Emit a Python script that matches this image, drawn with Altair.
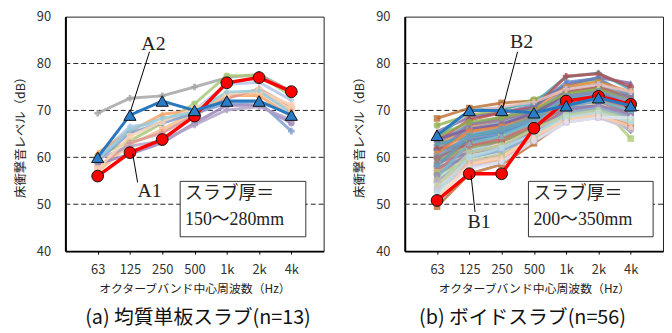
import json
import altair as alt
import pandas as pd

# ---------------- data ----------------
freq_labels = ["63", "125", "250", "500", "1k", "2k", "4k"]
y_ticks = [40, 50, 60, 70, 80, 90]
grid_levels = [50, 60, 70, 80]

# (a) homogeneous slabs, n=13
a_A1 = [56.0, 61.0, 63.8, 68.8, 75.9, 77.0, 74.0]
a_A2 = [60.0, 69.0, 72.0, 70.0, 72.0, 72.0, 69.0]
a_others = [
    [69.4, 72.6, 73.1, 75.0, 77.0, 77.7, 74.1],
    [60.3, 63.5, 67.3, 71.4, 77.4, 77.4, 73.2],
    [60.0, 66.6, 67.3, 70.0, 75.6, 76.0, 72.2],
    [61.0, 65.5, 69.2, 70.0, 73.2, 73.2, 68.7],
    [56.9, 62.8, 65.9, 69.7, 72.8, 73.9, 70.0],
    [57.9, 63.1, 65.2, 69.0, 72.5, 74.6, 70.8],
    [58.6, 60.7, 63.1, 67.3, 71.1, 71.1, 67.3],
    [59.3, 65.2, 67.3, 69.4, 71.5, 71.8, 65.6],
    [59.6, 62.4, 63.5, 66.9, 70.1, 70.8, 68.0],
    [57.6, 64.5, 67.6, 70.4, 73.5, 74.2, 71.1],
    [59.6, 65.9, 68.3, 69.7, 73.9, 74.2, 69.4],
]
a_colors = ["#A6A6A6", "#A9C97A", "#B4C7E7", "#F4A46C", "#FAC090", "#D99694",
            "#9A86B8", "#7F9FD0", "#B3A2C7", "#FCD5B5", "#93CDDD"]
a_shapes = ["cross", "circle", "diamond", "triangle-up", "square", "cross",
            "circle", "cross", "cross", "square", "diamond"]

# (b) voided slabs, n=56
b_B1 = [50.8, 56.5, 56.5, 66.2, 72.0, 73.0, 71.3]
b_B2 = [64.7, 70.0, 70.0, 69.5, 71.0, 72.7, 71.0]
b_others = [
    [68.3, 70.5, 71.6, 72.0, 74.0, 75.0, 73.0],
    [66.8, 69.0, 70.0, 72.3, 75.0, 76.5, 73.5],
    [65.5, 68.5, 69.5, 71.0, 75.5, 77.0, 75.8],
    [64.0, 70.0, 70.5, 71.5, 77.2, 78.0, 74.5],
    [63.5, 68.0, 69.5, 70.5, 77.3, 77.8, 75.0],
    [63.0, 67.0, 68.5, 70.5, 76.0, 76.8, 73.0],
    [62.5, 66.5, 68.0, 70.0, 75.0, 76.0, 74.0],
    [62.0, 66.0, 67.5, 69.5, 74.5, 75.5, 73.5],
    [61.5, 65.5, 67.0, 69.0, 74.0, 75.0, 72.5],
    [61.0, 64.0, 66.0, 69.0, 73.5, 74.5, 72.0],
    [60.5, 67.0, 68.0, 70.0, 73.0, 74.0, 73.0],
    [60.0, 63.5, 64.5, 67.5, 72.0, 73.0, 70.0],
    [59.5, 65.0, 66.5, 68.5, 72.5, 73.5, 71.5],
    [59.0, 62.5, 63.0, 66.0, 70.0, 70.5, 66.0],
    [58.5, 63.0, 64.5, 67.0, 71.0, 71.5, 64.0],
    [58.0, 64.0, 65.5, 68.0, 72.0, 73.0, 69.0],
    [57.5, 61.5, 62.0, 65.5, 69.0, 70.0, 68.0],
    [57.0, 60.5, 63.0, 66.5, 70.5, 71.5, 69.0],
    [56.5, 61.0, 63.5, 66.0, 69.0, 70.0, 68.0],
    [56.0, 62.0, 64.0, 67.0, 71.0, 72.0, 70.0],
    [55.5, 60.0, 62.0, 65.0, 68.5, 69.5, 70.0],
    [55.0, 59.5, 61.0, 64.5, 68.0, 69.0, 67.5],
    [54.5, 61.5, 62.5, 66.0, 70.0, 71.0, 68.5],
    [54.0, 60.5, 63.0, 66.5, 70.5, 71.5, 69.0],
    [53.5, 59.0, 60.0, 64.0, 68.0, 68.5, 70.0],
    [53.0, 58.5, 60.5, 63.5, 67.5, 68.5, 66.5],
    [52.0, 59.5, 61.5, 65.0, 69.0, 70.0, 67.0],
    [51.5, 58.0, 59.5, 63.0, 67.5, 69.0, 68.0],
    [49.5, 56.5, 58.5, 63.0, 68.0, 69.0, 67.0],
    [64.5, 67.5, 68.5, 70.0, 73.5, 74.5, 72.0],
    [63.8, 66.0, 67.0, 69.5, 73.0, 74.0, 71.0],
    [62.8, 64.5, 65.5, 68.0, 72.5, 73.0, 70.5],
    [61.8, 62.5, 63.5, 66.0, 70.0, 70.5, 66.0],
    [61.2, 63.5, 65.0, 67.5, 70.5, 71.0, 65.5],
    [60.8, 65.5, 66.5, 68.5, 71.5, 72.5, 70.5],
    [60.2, 64.5, 66.0, 68.0, 73.0, 74.0, 72.0],
    [59.8, 63.0, 64.0, 66.5, 71.0, 72.0, 69.5],
    [59.2, 62.0, 63.5, 66.0, 69.5, 70.5, 68.5],
    [58.8, 61.0, 62.5, 65.5, 70.0, 71.0, 69.0],
    [58.2, 64.5, 66.0, 68.5, 72.0, 73.0, 71.0],
    [57.8, 60.0, 61.5, 64.5, 69.0, 70.0, 67.5],
    [57.2, 62.5, 64.0, 67.0, 71.5, 72.5, 70.5],
    [56.8, 59.0, 60.5, 64.0, 68.5, 69.5, 68.0],
    [56.2, 61.0, 62.0, 65.5, 70.0, 71.0, 69.5],
    [55.8, 63.0, 64.5, 67.5, 71.0, 72.0, 70.0],
    [55.2, 58.5, 59.5, 63.5, 68.0, 69.0, 67.0],
    [54.8, 60.0, 61.5, 65.0, 69.5, 70.5, 68.5],
    [54.2, 59.0, 60.0, 64.0, 68.5, 69.5, 67.5],
    [53.8, 61.0, 62.5, 66.0, 69.0, 70.0, 68.0],
    [53.2, 58.0, 59.0, 63.5, 67.5, 68.5, 66.0],
    [52.5, 60.0, 62.0, 65.0, 68.5, 69.5, 67.5],
    [51.0, 58.5, 60.0, 64.5, 68.0, 69.0, 66.5],
    [50.2, 57.5, 59.0, 63.5, 67.5, 68.5, 68.5],
    [65.0, 69.5, 70.8, 71.8, 74.5, 75.5, 74.0],
]
b_palette = ["#B8692A", "#8DB04A", "#7A5C9E", "#3FA3BF", "#B94A47", "#5B83C2",
             "#F08A3A", "#7E9CC0", "#A86B6A", "#8FA66A", "#8C7AA8", "#5FA3B5",
             "#729ACA", "#CD7371", "#AFC97A", "#9983B5", "#6FBDD1", "#F9AB6B",
             "#95B3D7", "#E6B9B8", "#C3D69B", "#CCC1DA", "#B7DEE8", "#FCD5B5",
             "#DCE6F2", "#F2C4C3", "#D7E4BD", "#E4DFEC"]
b_shape_cycle = ["square", "circle", "triangle-up", "diamond", "cross", "triangle-down", "circle"]

SANS = "Noto Sans CJK JP"
SERIF = "Liberation Serif, Noto Sans CJK JP"
W, H = 261, 237


def long_df(rows, prefix):
    recs = []
    for i, row in enumerate(rows):
        for j, v in enumerate(row):
            recs.append({"series": f"{prefix}{i:02d}", "band": j + 1, "level": v})
    return pd.DataFrame(recs)


label_expr = json.dumps(freq_labels) + "[datum.value - 1]"
x_scale = alt.Scale(domain=[0, 8], nice=False, zero=False)
y_scale = alt.Scale(domain=[40, 90], nice=False, zero=False)
x_axis = alt.Axis(values=list(range(1, len(freq_labels) + 1)), labelExpr=label_expr,
                  title="オクターブバンド中心周波数（Hz）", grid=False,
                  domainColor="black", domainWidth=2, tickColor="black", tickSize=3,
                  labelFontSize=13, labelPadding=10, labelColor="#333",
                  titleFontSize=12, titleFontWeight="normal", titlePadding=7, titleColor="#222")
y_axis = alt.Axis(values=y_ticks, grid=False, ticks=False, title="床衝撃音レベル（dB）",
                  domainColor="black", domainWidth=2, labelFontSize=13, labelPadding=15,
                  labelColor="#333", titleFontSize=12.5, titleFontWeight="normal",
                  titlePadding=9, titleColor="#222")


def X():
    return alt.X("band:Q", scale=x_scale, axis=x_axis)


def Y(field="level:Q"):
    return alt.Y(field, scale=y_scale, axis=y_axis)


one = pd.DataFrame({"k": [0]})


def panel(rows, colors, shapes, opac, red, blue, lab_red, lab_blue, box_x, box_lines,
          caption, cap_x):
    bg = long_df(rows, "s")
    names = [f"s{i:02d}" for i in range(len(rows))]
    color = alt.Color("series:N", scale=alt.Scale(domain=names, range=colors), legend=None)
    shape = alt.Shape("series:N", scale=alt.Scale(domain=names, range=shapes), legend=None)

    grid = alt.Chart(pd.DataFrame({"g": grid_levels})).mark_rule(
        color="#222", strokeDash=[5, 3], strokeWidth=1).encode(y=Y("g:Q"))
    lines = alt.Chart(bg).mark_line(strokeWidth=3, opacity=opac).encode(
        x=X(), y=Y(), color=color, detail="series:N")
    pts = alt.Chart(bg).mark_point(filled=True, size=45, opacity=opac).encode(
        x=X(), y=Y(), color=color, shape=shape)

    rdf = long_df([red], "r")
    bdf = long_df([blue], "b")
    rline = alt.Chart(rdf).mark_line(color="#FF0000", strokeWidth=3.5).encode(x=X(), y=Y())
    rpts = alt.Chart(rdf).mark_point(shape="circle", filled=True, size=140, fill="#FF0000",
                                     stroke="#111", strokeWidth=1, opacity=1).encode(x=X(), y=Y())
    bline = alt.Chart(bdf).mark_line(color="#2878C0", strokeWidth=3).encode(x=X(), y=Y())
    bpts = alt.Chart(bdf).mark_point(shape="triangle-up", filled=True, size=150, fill="#2A7CC7",
                                     stroke="#111", strokeWidth=1, opacity=1).encode(x=X(), y=Y())

    ann = []
    for (txt, tx, ty, lx1, ly1, lx2, ly2) in (lab_red, lab_blue):
        ann.append(alt.Chart(one).mark_rule(color="black", strokeWidth=1).encode(
            x=alt.value(lx1), y=alt.value(ly1), x2=alt.value(lx2), y2=alt.value(ly2)))
        ann.append(alt.Chart(one).mark_text(font=SERIF, fontSize=20, color="#222",
                                            align="center", baseline="middle").encode(
            x=alt.value(tx), y=alt.value(ty), text=alt.value(txt)))
    box = alt.Chart(one).mark_rect(fill="white", stroke="#333", strokeWidth=1).encode(
        x=alt.value(box_x[0]), x2=alt.value(box_x[1]), y=alt.value(166.5), y2=alt.value(222.5))
    ann.append(box)
    for k, t in enumerate(box_lines):
        ann.append(alt.Chart(one).mark_text(font=SERIF, fontSize=18, color="#222",
                                            align="left", baseline="middle").encode(
            x=alt.value(box_x[0] + 5), y=alt.value(179 + 27 * k), text=alt.value(t)))
    ann.append(alt.Chart(one).mark_text(font=SANS, fontSize=20, color="#111",
                                        align="center", baseline="middle").encode(
        x=alt.value(cap_x), y=alt.value(305), text=alt.value(caption)))

    return alt.layer(grid, lines, pts, rline, rpts, bline, bpts, *ann).properties(
        width=W, height=H)


panel_a = panel(a_others, a_colors, a_shapes, 0.85, a_A1, a_A2,
                ("A1", 85, 176.5, 68, 138.5, 73, 167.5),
                ("A2", 89, 27.5, 85, 35.5, 66, 95),
                (116, 243), ["スラブ厚＝", "150～280mm"],
                "(a) 均質単板スラブ(n=13)", 134)

b_colors = [b_palette[i % len(b_palette)] for i in range(len(b_others))]
b_shapes = [b_shape_cycle[i % len(b_shape_cycle)] for i in range(len(b_others))]
panel_b = panel(b_others, b_colors, b_shapes, 0.78, b_B1, b_B2,
                ("B1", 75, 207.5, 67, 160.5, 71, 197.5),
                ("B2", 118, 25.5, 114, 35.5, 99, 92.5),
                (125, 251), ["スラブ厚＝", "200～350mm"],
                "(b) ボイドスラブ(n=56)", 119)

chart = alt.hconcat(panel_a, panel_b, spacing=29).resolve_scale(
    color="independent", shape="independent").properties(
    padding={"left": 6, "top": 0, "right": 0, "bottom": 0}
).configure(font=SANS).configure_view(stroke="#222", strokeWidth=1)

chart.save("out.html", embed_options={"renderer": "svg", "actions": False})
